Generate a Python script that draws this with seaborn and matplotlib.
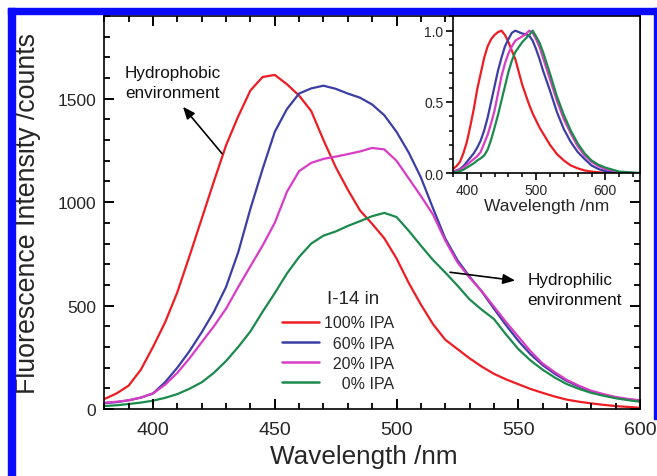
import numpy as np
import pandas as pd
import matplotlib
matplotlib.use("Agg")
import matplotlib.pyplot as plt
import seaborn as sns
from matplotlib.patches import Rectangle
from matplotlib.ticker import MultipleLocator, FormatStrFormatter

# ---------------- data ----------------
wavelength = [380, 385, 390, 395, 400, 405, 410, 415, 420, 425, 430, 435, 440, 445,
              450, 455, 460, 465, 470, 475, 480, 485, 490, 495, 500, 505, 510, 515,
              520, 525, 530, 535, 540, 545, 550, 555, 560, 565, 570, 575, 580, 585,
              590, 595, 600]
ipa100 = [48, 75, 113, 190, 300, 420, 565, 740, 920, 1100, 1275, 1415, 1540, 1605,
          1615, 1570, 1515, 1440, 1300, 1170, 1060, 960, 895, 825, 728, 610, 505, 410,
          335, 290, 245, 205, 170, 143, 120, 97, 78, 60, 45, 35, 27, 20,
          14, 10, 6]
ipa60 = [28, 33, 42, 55, 75, 130, 200, 280, 371, 470, 590, 758, 968, 1160,
         1340, 1450, 1525, 1550, 1563, 1548, 1525, 1505, 1472, 1420, 1340, 1240, 1120, 970,
         825, 720, 640, 568, 485, 405, 330, 265, 212, 170, 135, 108, 85, 68,
         55, 46, 40]
ipa20 = [30, 35, 42, 55, 75, 118, 175, 245, 323, 400, 485, 590, 690, 790,
         900, 1050, 1150, 1190, 1209, 1220, 1232, 1245, 1262, 1255, 1200, 1115, 1030, 940,
         815, 710, 635, 570, 495, 420, 350, 280, 220, 178, 140, 112, 88, 72,
         58, 49, 42]
ipa0 = [14, 18, 24, 31, 40, 54, 72, 98, 129, 175, 232, 300, 375, 470,
        560, 655, 735, 800, 838, 858, 885, 908, 932, 948, 928, 862, 790, 720,
        660, 597, 530, 480, 435, 360, 290, 235, 190, 152, 120, 97, 78, 64,
        52, 43, 35]

inset_wl = [380, 385, 390, 395, 400, 405, 410, 415, 420, 425, 430, 435, 440, 445,
            450, 455, 460, 465, 470, 475, 480, 485, 490, 495, 500, 505, 510, 515,
            520, 530, 540, 550, 560, 570, 580, 590, 600, 620, 650]
norm100 = [0.03, 0.05, 0.08, 0.14, 0.22, 0.33, 0.45, 0.59, 0.70, 0.81, 0.89, 0.94, 0.97, 0.99,
           1.00, 0.97, 0.92, 0.86, 0.80, 0.71, 0.62, 0.55, 0.48, 0.42, 0.37, 0.32, 0.28, 0.24,
           0.20, 0.135, 0.09, 0.055, 0.035, 0.02, 0.012, 0.007, 0.004, 0.001, 0.0]
norm60 = [0.01, 0.02, 0.03, 0.05, 0.08, 0.11, 0.14, 0.18, 0.23, 0.30, 0.39, 0.50, 0.61, 0.72,
          0.81, 0.89, 0.94, 0.985, 1.00, 0.99, 0.98, 0.975, 0.965, 0.93, 0.87, 0.80, 0.72, 0.65,
          0.58, 0.43, 0.31, 0.22, 0.15, 0.10, 0.055, 0.03, 0.015, 0.004, 0.0]
norm20 = [0.01, 0.017, 0.025, 0.04, 0.06, 0.08, 0.10, 0.12, 0.15, 0.21, 0.27, 0.35, 0.44, 0.56,
          0.68, 0.77, 0.84, 0.89, 0.93, 0.945, 0.96, 0.975, 1.00, 0.985, 0.94, 0.885, 0.81, 0.735,
          0.66, 0.51, 0.38, 0.28, 0.19, 0.125, 0.08, 0.05, 0.03, 0.008, 0.0]
norm0 = [0.005, 0.01, 0.015, 0.025, 0.04, 0.055, 0.07, 0.09, 0.105, 0.125, 0.165, 0.235, 0.32, 0.41,
         0.51, 0.61, 0.71, 0.79, 0.85, 0.885, 0.92, 0.945, 0.97, 1.00, 0.96, 0.915, 0.85, 0.775,
         0.70, 0.54, 0.41, 0.30, 0.21, 0.14, 0.09, 0.06, 0.04, 0.012, 0.002]

series = ["100% IPA", "60% IPA", "20% IPA", "0% IPA"]
legend_labels = ["100% IPA", "\u200760% IPA", "\u200720% IPA", "\u2007\u20070% IPA"]
colors = {"100% IPA": "#ee1d24", "60% IPA": "#3b3fa5", "20% IPA": "#d93cc4", "0% IPA": "#1b8a4c"}

# ---------------- style ----------------
sns.set_style("ticks")
plt.rcParams["font.family"] = ["Liberation Sans", "DejaVu Sans"]
plt.rcParams["axes.linewidth"] = 1.2
plt.rcParams["axes.axisbelow"] = False

main_df = pd.DataFrame({
    "wl": wavelength * 4,
    "I": ipa100 + ipa60 + ipa20 + ipa0,
    "s": sum([[s] * len(wavelength) for s in series], []),
})
inset_df = pd.DataFrame({
    "wl": inset_wl * 4,
    "I": norm100 + norm60 + norm20 + norm0,
    "s": sum([[s] * len(inset_wl) for s in series], []),
})

fig = plt.figure(figsize=(6.57, 4.77), dpi=100)
ax = fig.add_axes([0.1588, 0.1405, 0.8153, 0.8239])

sns.lineplot(data=main_df, x="wl", y="I", hue="s", hue_order=series, palette=colors,
             lw=1.6, ax=ax, legend=True, sort=True)

ax.set_xlim(380, 600)
ax.set_ylim(0, 1900)
ax.xaxis.set_major_locator(MultipleLocator(50))
ax.xaxis.set_minor_locator(MultipleLocator(10))
ax.yaxis.set_major_locator(MultipleLocator(500))
ax.yaxis.set_minor_locator(MultipleLocator(100))
ax.tick_params(axis="both", which="major", direction="in", bottom=True, left=True,
               top=True, right=True, length=7, width=1.4, color="black")
ax.tick_params(axis="both", which="minor", direction="in", bottom=True, left=True,
               top=True, right=True, length=4.5, width=1.3, color="black")
ax.tick_params(axis="x", labelsize=14, pad=9)
ax.tick_params(axis="y", labelsize=12.5, pad=6)
for sp in ax.spines.values():
    sp.set_color("black")
    sp.set_linewidth(1.2)

ax.set_xlabel("Wavelength /nm", fontsize=18.8)
ax.set_ylabel("Fluorescence Intensity /counts", fontsize=19.3)
ax.xaxis.set_label_coords(0.484, -0.088)
ax.yaxis.set_label_coords(-0.118, 0.5)

handles, _ = ax.get_legend_handles_labels()
leg = ax.legend(handles[:4], legend_labels, title="I-14 in \u2007", loc="upper left",
                bbox_to_anchor=(0.332, 0.303), frameon=False, fontsize=11.5,
                title_fontsize=13.5, handlelength=2.3, handletextpad=0.35,
                labelspacing=0.33, borderpad=0, borderaxespad=0, alignment="right")
leg._legend_box.sep = 6
for line in leg.get_lines():
    line.set_linewidth(1.8)

arrow_kw = dict(arrowstyle="-|>,head_length=0.6,head_width=0.25", color="black",
                lw=1.2, mutation_scale=12, shrinkA=0, shrinkB=0)
ax.text(388.5, 1662, "Hydrophobic\nenvironment", fontsize=12.3, va="top", ha="left",
        linespacing=1.4, color="#111111")
ax.annotate("", xy=(412.3, 1461), xytext=(428.4, 1234), arrowprops=arrow_kw)
ax.text(553.7, 662, "Hydrophilic\nenvironment", fontsize=12.3, va="top", ha="left",
        linespacing=1.4, color="#111111")
ax.annotate("", xy=(548.7, 621), xytext=(522.0, 661), arrowprops=arrow_kw)

# ---------------- inset ----------------
axin = fig.add_axes([0.6895, 0.6346, 0.2846, 0.3298])
axin.set_facecolor("white")
sns.lineplot(data=inset_df, x="wl", y="I", hue="s", hue_order=series, palette=colors,
             lw=1.6, ax=axin, legend=False)
axin.set_xlim(380, 650)
axin.set_ylim(0, 1.103)
axin.xaxis.set_major_locator(MultipleLocator(100))
axin.xaxis.set_minor_locator(MultipleLocator(20))
axin.yaxis.set_major_locator(MultipleLocator(0.5))
axin.yaxis.set_minor_locator(MultipleLocator(0.1))
axin.yaxis.set_major_formatter(FormatStrFormatter("%.1f"))
axin.tick_params(axis="both", which="major", direction="out", bottom=True, left=True,
                 top=False, right=False, length=5, width=1.2, color="black",
                 labelsize=10, pad=2)
axin.tick_params(axis="both", which="minor", direction="out", bottom=True, left=True,
                 top=False, right=False, length=3, width=1.1, color="black")
axin.set_xlabel("Wavelength /nm", fontsize=12.5, labelpad=1)
axin.set_ylabel("")
for sp in axin.spines.values():
    sp.set_color("black")
    sp.set_linewidth(1.2)

# ---------------- blue page border ----------------
W, H = 657.0, 477.0
blue = "#0a0aff"
fig.patches.append(Rectangle((8 / W, 0), 7 / W, 1 - 9 / H, transform=fig.transFigure,
                             color=blue, zorder=10))
fig.patches.append(Rectangle((8 / W, 1 - 15 / H), 1 - 8 / W, 6 / H, transform=fig.transFigure,
                             color=blue, zorder=10))
fig.patches.append(Rectangle((653.5 / W, 1 - 420 / H), 4 / W, (420 - 9) / H,
                             transform=fig.transFigure, color=blue, zorder=10))

fig.savefig("out.png", dpi=100)
